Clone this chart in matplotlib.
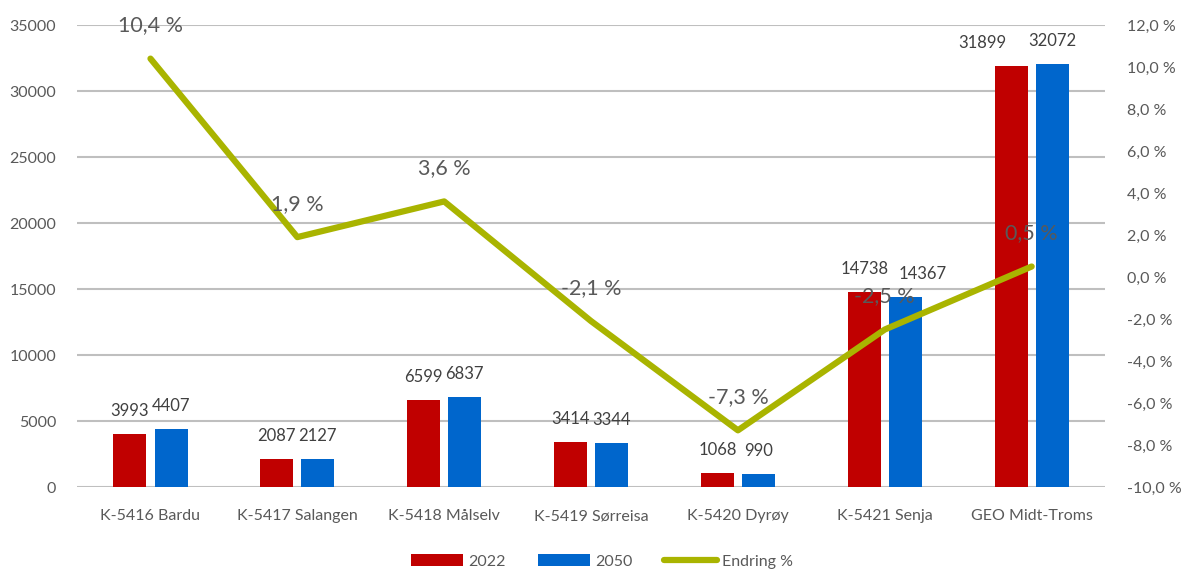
import numpy as np
import matplotlib.pyplot as plt
from matplotlib.ticker import FuncFormatter

categories = ['K-5416 Bardu', 'K-5417 Salangen', 'K-5418 Målselv', 'K-5419 Sørreisa',
              'K-5420 Dyrøy', 'K-5421 Senja', 'GEO Midt-Troms']
pop_2022 = [3993, 2087, 6599, 3414, 1068, 14738, 31899]
pop_2050 = [4407, 2127, 6837, 3344, 990, 14367, 32072]
change_pct = [10.4, 1.9, 3.6, -2.1, -7.3, -2.5, 0.5]

# label nudges (pixels) where the original chart moved labels apart
shift_2022 = [0, 0, 0, 0, 0, 0, -29]
shift_2050 = [0, 0, 0, 0, 0, 17, 0]

plt.rcParams['font.family'] = ['Lato', 'DejaVu Sans']
text_grey = '#595959'

fig = plt.figure(figsize=(11.87, 5.70), dpi=100)
ax = fig.add_axes([0.0649, 0.1456, 0.8661, 0.8105])
x = np.arange(len(categories))
w = 0.225

b1 = ax.bar(x - 0.14, pop_2022, w, color='#C00000', label='2022', zorder=2)
b2 = ax.bar(x + 0.14, pop_2050, w, color='#0066CC', label='2050', zorder=2)
for bars, vals, shifts in ((b1, pop_2022, shift_2022), (b2, pop_2050, shift_2050)):
    for rect, v, dx in zip(bars, vals, shifts):
        ax.annotate(str(v), (rect.get_x() + rect.get_width() / 2, v), xytext=(dx, 23),
                    textcoords='offset pixels', ha='center', va='center',
                    fontsize=12, color='#404040')

ax.set_xlim(-0.5, len(categories) - 0.5)
ax.set_ylim(0, 35000)
ax.set_yticks(range(0, 35001, 5000))
ax.yaxis.grid(True, color='#BFBFBF', linewidth=1.5, zorder=0)
ax.set_axisbelow(True)
ax.set_xticks(x)
ax.set_xticklabels(categories)
ax.tick_params(axis='both', length=0, labelsize=11.5, colors=text_grey)
ax.tick_params(axis='x', pad=16)
ax.tick_params(axis='y', pad=15)
for s in ax.spines.values():
    s.set_visible(False)

# Endring % on right axis
ax2 = ax.twinx()
ln, = ax2.plot(x, change_pct, color='#A9B400', linewidth=4.5, solid_capstyle='round',
               label='Endring %', zorder=3)
ax2.set_ylim(-10, 12)
ax2.set_yticks(np.arange(-10, 12.1, 2))
ax2.yaxis.set_major_formatter(FuncFormatter(lambda v, p: f'{v:.1f} %'.replace('.', ',')))
ax2.tick_params(axis='y', length=0, labelsize=11.5, colors=text_grey, pad=16)
for s in ax2.spines.values():
    s.set_visible(False)
for xi, v in zip(x, change_pct):
    ax2.annotate(f'{v:.1f} %'.replace('.', ','), (xi, v), xytext=(0, 24),
                 textcoords='offset points', ha='center', va='center',
                 fontsize=15.5, color=text_grey)

handles = [b1, b2, ln]
fig.legend(handles, ['2022', '2050', 'Endring %'], loc='center', bbox_to_anchor=(0.507, 0.015),
           ncol=3, frameon=False, fontsize=11.5, labelcolor=text_grey,
           handlelength=3.3, handleheight=0.8, columnspacing=2.0, handletextpad=0.3)

fig.savefig('out.png', dpi=100)
